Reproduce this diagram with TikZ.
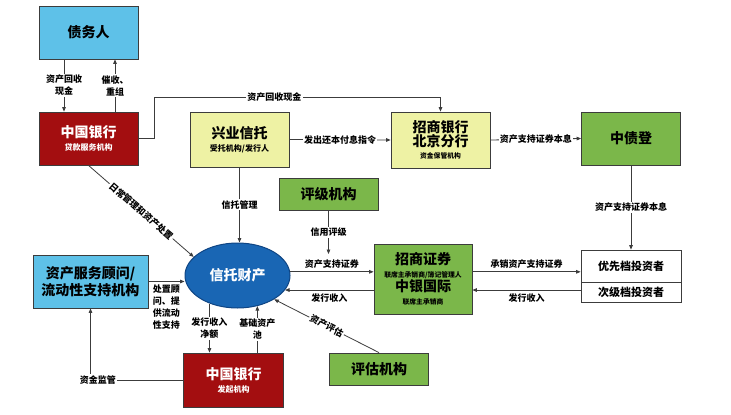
\documentclass[tikz,border=0pt]{standalone}
\usepackage{fontspec}
\newfontfamily\cjk{Noto Sans CJK SC}
\usetikzlibrary{arrows.meta,positioning,shapes.geometric}
\definecolor{skyfill}{HTML}{5EC1E8}
\definecolor{bankred}{HTML}{A30E10}
\definecolor{trustyellow}{HTML}{EEF2A4}
\definecolor{agencygreen}{HTML}{7BB74A}
\definecolor{poolblue}{HTML}{1966B4}
\definecolor{poolline}{HTML}{0F4584}
\definecolor{edge}{HTML}{3C3C3C}
\newcommand{\boxsz}{\fontsize{14}{17}\selectfont}
\newcommand{\subsz}{\fontsize{8}{10}\selectfont}
\newcommand{\tagsz}{\fontsize{9}{12}\selectfont}
\newcommand{\finesz}{\fontsize{6.8}{9}\selectfont}
\newcommand{\invsz}{\fontsize{11}{13}\selectfont}

\begin{document}
\begin{tikzpicture}[x=1pt, y=-1pt,
  every node/.style={font=\cjk\bfseries, align=center, inner sep=1pt},
  box/.style={draw=edge, line width=0.8pt, minimum width=99pt, minimum height=53pt},
  bankbox/.style={box, fill=bankred, text=white},
  trustbox/.style={box, fill=trustyellow},
  agencybox/.style={box, fill=agencygreen},
  skybox/.style={box, fill=skyfill},
  lbl/.style={font=\cjk\bfseries\tagsz, fill=white, inner sep=1.2pt},
  arr/.style={-{Triangle[length=4.5pt,width=3.6pt]}, draw=edge, line width=0.8pt}]
\path[fill=white] (0,0) rectangle (731,415);
\useasboundingbox (0,0) rectangle (731,415);

% top row
\node[skybox, font=\cjk\bfseries\boxsz] (debtor) at (88.5,32.5) {债务人};
\node[bankbox] (svcbank) at (88.5,138.5) {{\boxsz 中国银行}\\[1pt]{\subsz 贷款服务机构}};
\node[trustbox, minimum height=55pt] (trustee) at (239.5,139.5) {{\boxsz 兴业信托}\\[1pt]{\subsz 受托机构/发行人}};
\node[trustbox, minimum height=56pt] (custody) at (440.5,140) {{\boxsz 招商银行}\\{\boxsz 北京分行}\\{\finesz 资金保管机构}};
\node[agencybox, font=\cjk\bfseries\boxsz] (ccdc) at (631,138.5) {中债登};

% middle row
\node[agencybox, minimum height=32pt, font=\cjk\bfseries\boxsz] (rating) at (328.5,194) {评级机构};
\node[ellipse, draw=poolline, line width=1pt, fill=poolblue, text=white, minimum width=105pt,
  minimum height=65pt, inner sep=0pt, font=\cjk\bfseries\boxsz] (pool) at (237.5,275.5) {信托财产};
\node[skybox, minimum width=115pt, font=\cjk\bfseries\boxsz] (advisor) at (90.5,281.5) {资产服务顾问/\\流动性支持机构};
\node[agencybox, minimum width=98pt, minimum height=70pt] (underwriter) at (423,279)
  {{\boxsz 招商证券}\\[1pt]{\finesz 联席主承销商/簿记管理人}\\{\boxsz 中银国际}\\[1pt]{\finesz 联席主承销商}};
\node[box, fill=white, minimum width=100pt, minimum height=32pt, font=\cjk\bfseries\invsz] (senior) at (631,266) {优先档投资者};
\node[box, fill=white, minimum width=100pt, minimum height=20pt, font=\cjk\bfseries\invsz, below=0pt of senior] (junior) {次级档投资者};

% bottom row
\node[bankbox, minimum width=100pt, minimum height=54pt] (origbank) at (233.5,380) {{\boxsz 中国银行}\\[1pt]{\subsz 发起机构}};
\node[agencybox, minimum height=32pt, font=\cjk\bfseries\boxsz] (appraiser) at (379,369) {评估机构};

\coordinate (bend) at (154,97);
\coordinate (rtgend) at (328.5,254);

\draw[arr] ([xshift=-24.5pt]debtor.south) -- node[lbl]{资产回收\\现金} ([xshift=-24.5pt]svcbank.north);
\draw[arr] ([xshift=26.5pt]svcbank.north) -- node[lbl]{催收、\\重组} ([xshift=26.5pt]debtor.south);
\draw[arr] (svcbank.east) -| (bend) -| node[lbl, pos=0.21]{资产回收现金} (custody.north);
\draw[arr] (trustee.east) -- node[lbl]{发出还本付息指令} (custody.west);
\draw[arr] (custody.east) -- node[lbl]{资产支持证券本息} (ccdc.west);
\draw[arr] (ccdc.south) -- node[lbl]{资产支持证券本息} (senior.north);
\draw[arr] (svcbank.south) -- node[lbl, sloped]{日常管理和资产处置} (pool.157);
\draw[arr] (trustee.south) -- node[lbl]{信托管理} (trustee.south |- pool.north);
\draw[arr] (rating.south) -- node[lbl]{信用评级} (rtgend);
\draw[arr] (pool.4) -- node[lbl, above=2pt]{资产支持证券} (pool.4 -| underwriter.west);
\draw[arr] (pool.-17 -| underwriter.west) -- node[lbl, below=2pt]{发行收入} (pool.-17);
\draw[arr] (pool.4 -| underwriter.east) -- node[lbl, above=2pt]{承销资产支持证券} (pool.4 -| senior.west);
\draw[arr] (pool.-17 -| junior.west) -- node[lbl, below=2pt]{发行收入} (pool.-17 -| underwriter.east);
\draw[arr] (advisor.east) -- node[lbl, below=2pt]{处置顾\\问、提\\供流动\\性支持} (advisor.east -| pool.west);
\draw[arr] (pool.-135) -- node[lbl]{发行收入\\净额} (pool.-135 |- origbank.north);
\draw[arr] (pool.-57 |- origbank.north) -- node[lbl]{基础资产\\池} (pool.-57);
\draw[arr] (appraiser.north) -- node[lbl, sloped]{资产评估} (pool.-33);
\draw[arr] (origbank.west) -| node[lbl, pos=0.46]{资金监管} (advisor.south);
\end{tikzpicture}
\end{document}
